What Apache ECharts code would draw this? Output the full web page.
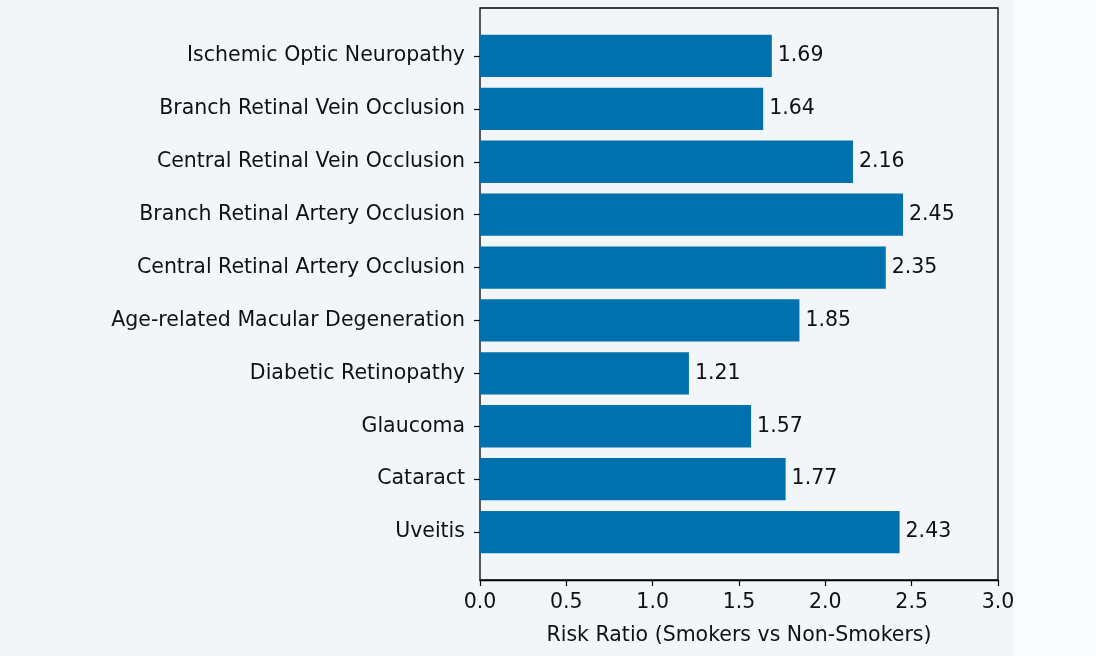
<!DOCTYPE html>
<html>
<head>
<meta charset="utf-8">
<script src="https://cdn.jsdelivr.net/npm/echarts@6/dist/echarts.min.js"></script>
<style>
  html, body { margin: 0; padding: 0; background: #f3f6f9; }
  #chart { width: 1096px; height: 656px; }
  #strip { position: absolute; left: 1014px; top: 0; width: 82px; height: 656px; background: #fafbfc; }
</style>
</head>
<body>
<div id="strip"></div>
<div id="chart"></div>
<script>
// categories top to bottom
var conditions = [
    'Ischemic Optic Neuropathy',
    'Branch Retinal Vein Occlusion',
    'Central Retinal Vein Occlusion',
    'Branch Retinal Artery Occlusion',
    'Central Retinal Artery Occlusion',
    'Age-related Macular Degeneration',
    'Diabetic Retinopathy',
    'Glaucoma',
    'Cataract',
    'Uveitis'
];
var riskRatios = [1.69, 1.64, 2.16, 2.45, 2.35, 1.85, 1.21, 1.57, 1.77, 2.43];
var xTicks = [0, 0.5, 1, 1.5, 2, 2.5, 3];

var font = 'DejaVu Sans';
var fs = 20.5;
var chart = echarts.init(document.getElementById('chart'));

var option = {
    backgroundColor: 'transparent',
    animation: false,
    textStyle: { fontFamily: font },
    grid: [
        // frame of the axes
        { left: 480, right: 98, top: 8, bottom: 76, show: true, borderColor: '#000', borderWidth: 1.3, backgroundColor: 'transparent' },
        // bars sit inside with matplotlib-like margins
        { left: 480, right: 98, top: 29.5, bottom: 97.5 }
    ],
    xAxis: [
        {
            gridIndex: 0, type: 'value', min: xTicks[0], max: xTicks[xTicks.length - 1], interval: 0.5,
            axisLine: { show: true, lineStyle: { color: '#000', width: 1.3 } },
            axisTick: { show: true, length: 6, lineStyle: { color: '#000', width: 1.2 } },
            splitLine: { show: false },
            axisLabel: { color: '#111', fontSize: fs, margin: 12, formatter: function (v) { return v.toFixed(1); } },
            name: 'Risk Ratio (Smokers vs Non-Smokers)',
            nameLocation: 'middle', nameGap: 45,
            nameTextStyle: { color: '#111', fontSize: fs, fontFamily: font }
        },
        {
            gridIndex: 1, type: 'value', min: 0, max: 3, show: false
        }
    ],
    yAxis: [
        { gridIndex: 0, type: 'value', show: false },
        {
            gridIndex: 1, type: 'category', inverse: true, data: conditions,
            axisLine: { show: false },
            axisTick: { show: true, alignWithLabel: true, length: 6, lineStyle: { color: '#000', width: 1.2 } },
            axisLabel: { color: '#111', fontSize: fs, margin: 15 }
        }
    ],
    series: [{
        type: 'bar',
        xAxisIndex: 1, yAxisIndex: 1,
        data: riskRatios,
        barCategoryGap: '20%',
        itemStyle: { color: '#0071ad' },
        label: {
            show: true, position: 'right', distance: 6,
            color: '#111', fontSize: fs, fontFamily: font,
            formatter: function (p) { return p.value.toFixed(2); }
        }
    }]
};
chart.setOption(option);
</script>
</body>
</html>
